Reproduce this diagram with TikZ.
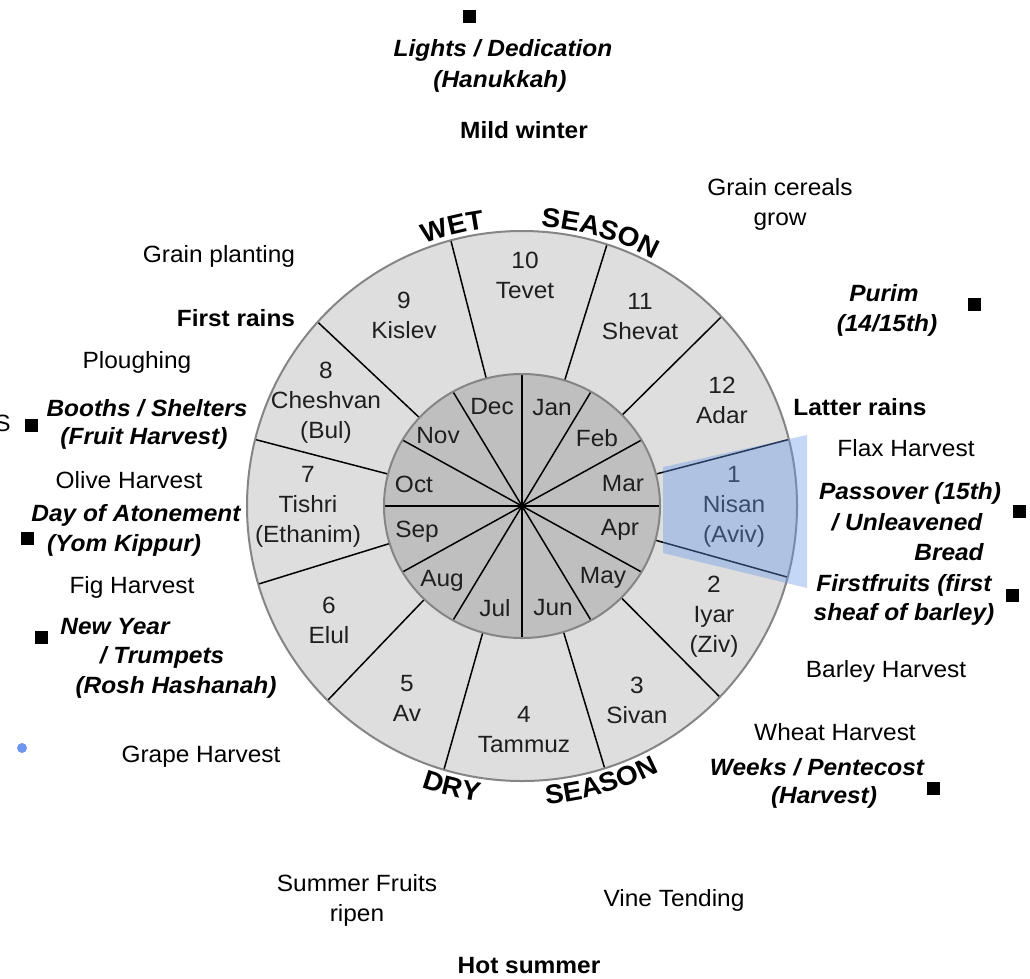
\documentclass[tikz,border=0pt]{standalone}
\usepackage{fontspec}
\setmainfont{Liberation Sans}[FakeStretch=1.04]
\usetikzlibrary{decorations.text}
\newcommand\curvefont{\fontsize{27}{30}\selectfont\bfseries}
\definecolor{nisanblue}{RGB}{100,150,235}
\definecolor{dotblue}{RGB}{110,150,240}
\begin{document}
\begin{tikzpicture}[x=1pt,y=1pt,
  base/.style={inner sep=0pt, align=center, text=black},
  lbl/.style={base, font=\fontsize{23.5}{30}\selectfont},
  blbl/.style={base, font=\fontsize{23.5}{30}\selectfont\bfseries},
  ilbl/.style={base, font=\fontsize{23.5}{30}\selectfont\bfseries\itshape},
  mon/.style={base, font=\fontsize{23.5}{30}\selectfont, text=black!88},
  bullet/.style={fill=black, minimum width=13pt, minimum height=13pt, inner sep=0pt},
  spoke/.style={line width=1.5pt, black},
  rim/.style={line width=2pt, draw=black!48},
  curved/.style={decorate, decoration={text along path, text align=center, text={|\curvefont|#1}}},
]
\useasboundingbox (0,0) rectangle (1030,-978);
\fill[white] (0,0) rectangle (1030,-978);

% ---- wheel ----
\begin{scope}[shift={(522,-506)}]
  \fill[black!13] (0,0) circle[radius=275pt];
  \foreach \a in {14,43.5,72,105,138,166,196.5,225,253.5,287.5,316,345}
    \draw[spoke] (\a:138pt and 132pt) -- (\a:275pt);
  \fill[black!25] (0,0) ellipse[x radius=138pt, y radius=132pt];
  \foreach \a in {0,30,...,330}
    \draw[spoke] (0,0) -- (\a:138pt and 132pt);
  \draw[rim] (0,0) circle[radius=275pt];
  \draw[rim] (0,0) ellipse[x radius=138pt, y radius=132pt];
  % curved season words
  \path[curved=WET] (119:280pt) arc[start angle=119, end angle=89, radius=280pt];
  \path[curved=SEASON] (104:280pt) arc[start angle=104, end angle=44, radius=280pt];
  \path[curved=DRY] (236:299pt) arc[start angle=236, end angle=276, radius=299pt];
  \path[curved=SEASON] (256:299pt) arc[start angle=256, end angle=316, radius=299pt];
\end{scope}

% ---- Hebrew months (outer ring) ----
\node[mon] (m10) at (525,-275) {10\\Tevet};
\node[mon] (m11) at (640,-317) {11\\Shevat};
\node[mon] (m9)  at (404,-315) {9\\Kislev};
\node[mon] (m12) at (722,-400) {12\\Adar};
\node[mon] (m8)  at (326,-403) {8\\Cheshvan\\(Bul)};
\node[mon] (m7)  at (308,-507) {7\\Tishri\\(Ethanim)};
\node[mon] (m1)  at (734,-507) {1\\Nisan\\(Aviv)};
\node[mon] (m6)  at (329,-620) {6\\Elul};
\node[mon] (m2)  at (714,-617) {2\\Iyar\\(Ziv)};
\node[mon] (m5)  at (407,-698) {5\\Av};
\node[mon] (m3)  at (637,-700) {3\\Sivan};
\node[mon] (m4)  at (524,-730) {4\\Tammuz};

% ---- Gregorian months (inner disc) ----
\node[mon] (dec) at (492,-407) {Dec};
\node[mon] (jan) at (552,-408) {Jan};
\node[mon] (nov) at (438,-436) {Nov};
\node[mon] (feb) at (597,-438) {Feb};
\node[mon] (oct) at (414,-484) {Oct};
\node[mon] (mar) at (623,-484) {Mar};
\node[mon] (sep) at (417,-532) {Sep};
\node[mon] (apr) at (620,-530) {Apr};
\node[mon] (aug) at (442,-581) {Aug};
\node[mon] (may) at (603,-578) {May};
\node[mon] (jul) at (495,-608) {Jul};
\node[mon] (jun) at (553,-608) {Jun};

% ---- Nisan highlight ----
\fill[nisanblue, opacity=0.38] (663,-467) -- (807,-435) -- (807,-588) -- (663,-553) -- cycle;

% ---- outer labels ----
\node[bullet] (sq1) at (469,-16) {};
\node[ilbl] (light1) at (503,-50) {Lights / Dedication};
\node[ilbl] (light2) at (500,-81) {(Hanukkah)};
\node[blbl] (mild) at (524,-130) {Mild winter};
\node[lbl] (grain) at (780,-204) {Grain cereals\\grow};
\node[lbl] (plant) at (219,-256) {Grain planting};
\node[blbl] (first) at (236,-318) {First rains};
\node[lbl] (plough) at (137,-362) {Ploughing};
\node[ilbl] (purim1) at (884,-293) {Purim};
\node[ilbl] (purim2) at (887,-325) {(14/15th)};
\node[bullet] (sq2) at (974,-304) {};
\node[blbl] (latter) at (860,-407) {Latter rains};
\node[lbl] (flax) at (906,-448) {Flax Harvest};
\node[ilbl] (pass1) at (910,-493) {Passover (15th)};
\node[ilbl] (pass2) at (907,-522) {/ Unleavened};
\node[ilbl] (pass3) at (949,-552) {Bread};
\node[bullet] (sq3) at (1019,-511) {};
\node[ilbl] (ff1) at (904,-585) {Firstfruits (first};
\node[ilbl] (ff2) at (904,-614) {sheaf of barley)};
\node[bullet] (sq4) at (1012,-595) {};
\node[lbl] (barley) at (886,-671) {Barley Harvest};
\node[lbl] (wheat) at (835,-732) {Wheat Harvest};
\node[ilbl] (weeks1) at (817,-767) {Weeks / Pentecost};
\node[ilbl] (weeks2) at (824,-797) {(Harvest)};
\node[bullet] (sq5) at (933,-788) {};
\node[lbl, anchor=east] (cut) at (11,-423) {S};
\node[bullet] (sq6) at (31,-425) {};
\node[ilbl] (booth1) at (147,-408) {Booths / Shelters};
\node[ilbl] (booth2) at (144,-438) {(Fruit Harvest)};
\node[lbl] (olive) at (129,-480) {Olive Harvest};
\node[ilbl] (day1) at (136,-515) {Day of Atonement};
\node[ilbl] (day2) at (124,-545) {(Yom Kippur)};
\node[bullet] (sq7) at (27,-538) {};
\node[lbl] (fig) at (132,-587) {Fig Harvest};
\node[bullet] (sq8) at (41,-637) {};
\node[ilbl] (ny1) at (115,-627) {New Year};
\node[ilbl] (ny2) at (162,-657) {/ Trumpets};
\node[ilbl] (ny3) at (176,-687) {(Rosh Hashanah)};
\node[circle, fill=dotblue, minimum size=10pt, inner sep=0pt] (dot) at (22,-748) {};
\node[lbl] (grape) at (201,-757) {Grape Harvest};
\node[lbl] (summerfr) at (357,-900) {Summer Fruits\\ripen};
\node[lbl] (vine) at (674,-900) {Vine Tending};
\node[blbl] (hot) at (529,-966) {Hot summer};
\end{tikzpicture}
\end{document}
